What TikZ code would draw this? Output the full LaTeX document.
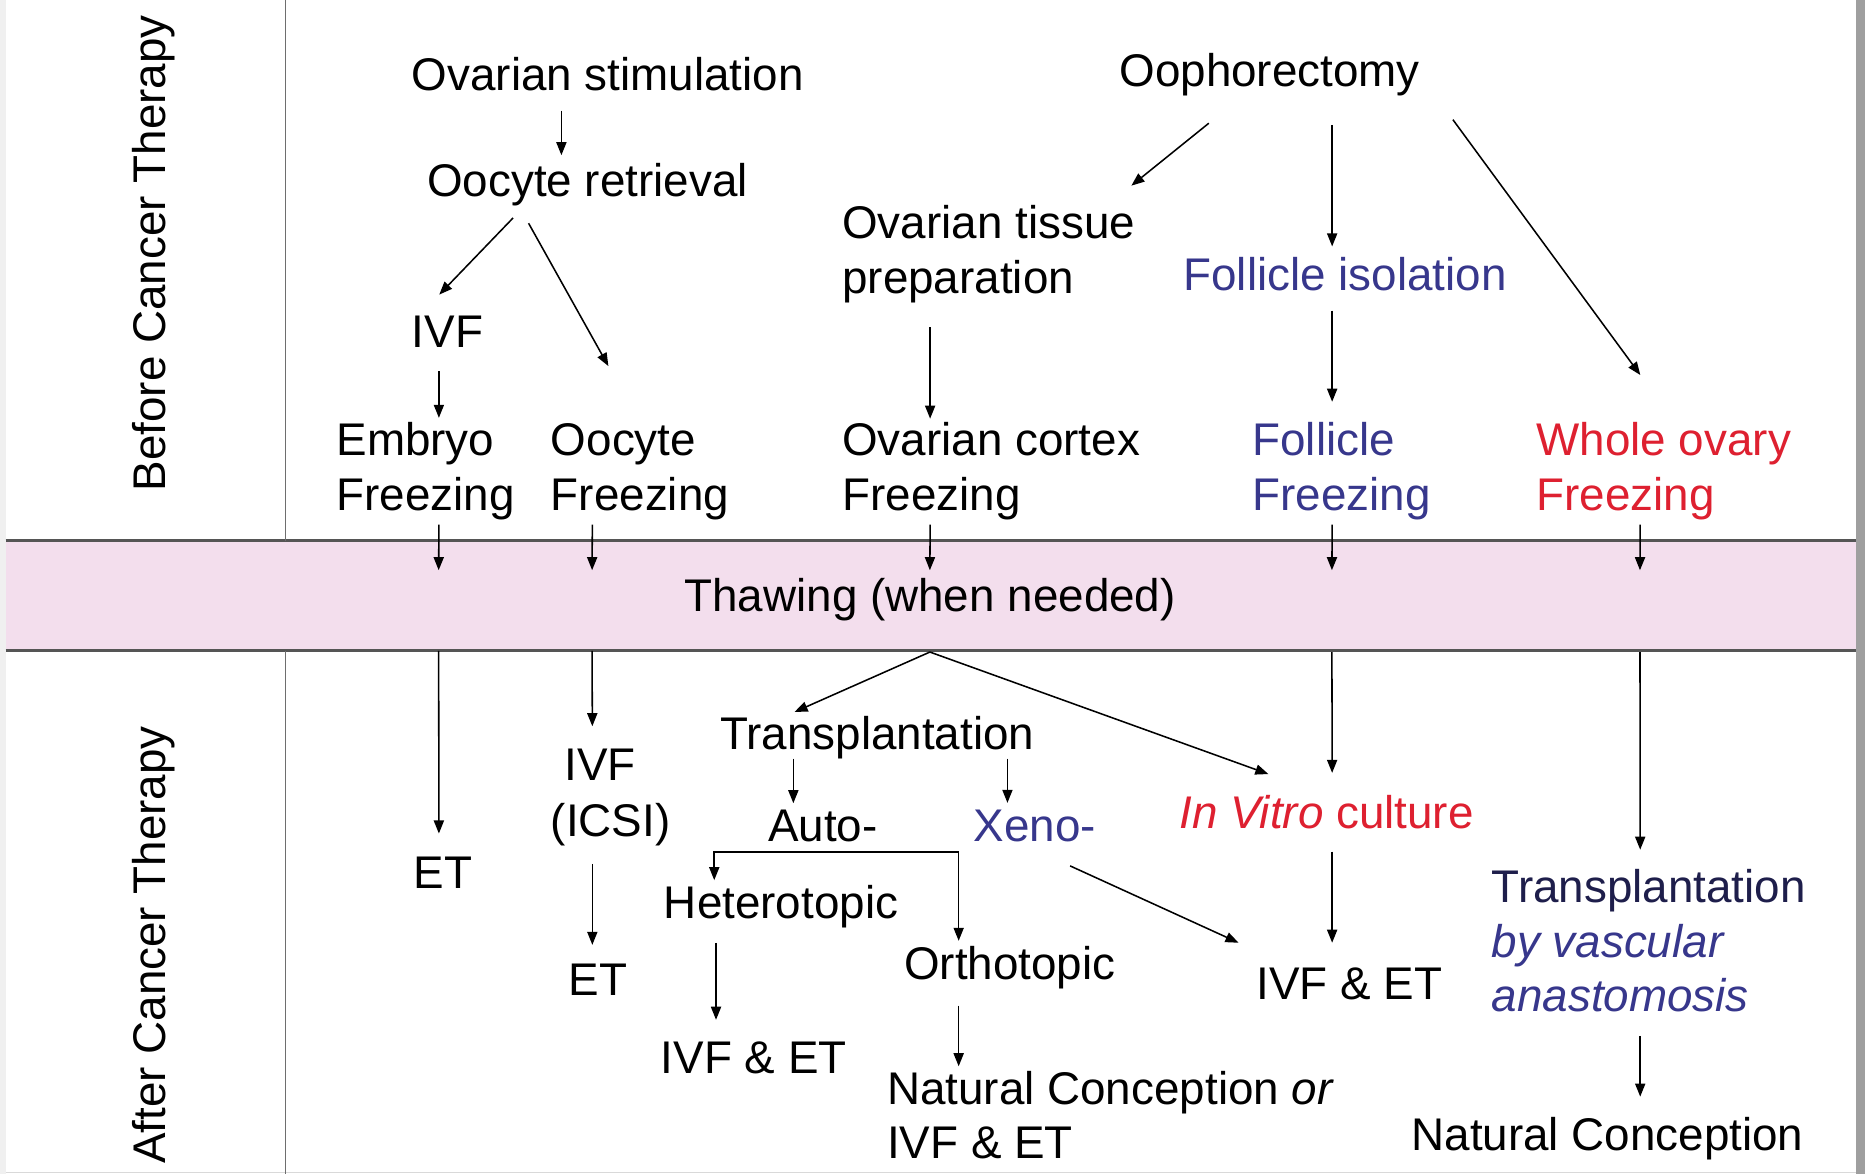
\documentclass[tikz,border=0pt]{standalone}
\usepackage{fontspec}
\setmainfont{Liberation Sans}
\usetikzlibrary{arrows.meta}
\definecolor{bandpink}{RGB}{243,222,237}
\definecolor{bandline}{RGB}{85,85,85}
\definecolor{blu}{RGB}{55,55,140}
\definecolor{navy}{RGB}{30,30,75}
\definecolor{rd}{RGB}{222,32,48}
\definecolor{divgrey}{RGB}{110,110,110}
\begin{document}
\begin{tikzpicture}[x=1pt,y=-1pt,
  txt/.style={inner sep=0pt, anchor=base west, font=\fontsize{38.5}{46}\selectfont},
  arr/.style={line width=1.3pt, -{Triangle[length=11pt,width=8.5pt]}},
  conn/.style={line width=1.3pt}]
\path[use as bounding box] (0,0) rectangle (1568,987);
% frame
\fill[white] (0,0) rectangle (1568,987);
\fill[gray!12] (0,0) rectangle (5,987);
\fill[gray!75] (1560,0) rectangle (1568,987);
\draw[gray!30, line width=1pt] (5,985.5) -- (1560,985.5);
% band
\node[fill=bandpink, minimum width=1555pt, minimum height=92pt, inner sep=0pt] (band) at (782.5,501) {};
\draw[bandline, line width=2.5pt] (band.north west) -- (band.north east);
\draw[bandline, line width=2.5pt] (band.south west) -- (band.south east);
% divider
\draw[divgrey, line width=1.3pt] (240,0) -- (240,455);
\draw[divgrey, line width=1.3pt] (240,547) -- (240,987);
% side labels
\node[txt, anchor=base, rotate=90] (bct) at (139,213) {Before Cancer Therapy};
\node[txt, anchor=base, rotate=90] (act) at (139,794.5) {After Cancer Therapy};
% top section
\node[txt] (ovs) at (346,76) {Ovarian stimulation};
\node[txt] (oret) at (359,165) {Oocyte retrieval};
\node[txt] (ivf1) at (346,292) {IVF};
\node[txt] (emb1) at (282.7,383) {Embryo};
\node[txt] (emb2) at (282.7,429.5) {Freezing};
\node[txt] (ocf1) at (463,383) {Oocyte};
\node[txt] (ocf2) at (463,429.5) {Freezing};
\node[txt] (otp1) at (708,200.6) {Ovarian tissue};
\node[txt] (otp2) at (708,247) {preparation};
\node[txt] (ocx1) at (708,383) {Ovarian cortex};
\node[txt] (ocx2) at (708,429.5) {Freezing};
\node[txt] (ooph) at (941,73) {Oophorectomy};
\node[txt, text=blu] (fiso) at (994.8,244) {Follicle isolation};
\node[txt, text=blu] (ff1) at (1052.8,383) {Follicle};
\node[txt, text=blu] (ff2) at (1052.8,429.5) {Freezing};
\node[txt, text=rd] (wo1) at (1291.6,383) {Whole ovary};
\node[txt, text=rd] (wo2) at (1291.6,429.5) {Freezing};
\node[txt, anchor=base] (thaw) at (782,514) {Thawing (when needed)};
% bottom section
\node[txt] (et1) at (347.8,747) {ET};
\node[txt] (ivf2a) at (474.4,656.5) {IVF};
\node[txt] (ivf2b) at (463,703) {(ICSI)};
\node[txt] (et2) at (478,837) {ET};
\node[txt] (trans) at (605.4,630) {Transplantation};
\node[txt] (auto) at (645.6,707.6) {Auto-};
\node[txt, text=blu] (xeno) at (818.6,707.6) {Xeno-};
\node[txt] (het) at (558,772.3) {Heterotopic};
\node[txt] (ivfet1) at (555.5,902.6) {IVF \& ET};
\node[txt] (orth) at (760,823.3) {Orthotopic};
\node[txt] (nc1) at (745.7,929) {Natural Conception \textit{or}};
\node[txt] (nc2) at (745.7,974) {IVF \& ET};
\node[txt, text=rd] (invitro) at (991.3,696.4) {\textit{In Vitro} culture};
\node[txt] (ivfet2) at (1056.3,840.3) {IVF \& ET};
\node[txt, text=navy] (tv1) at (1254,758.6) {Transplantation};
\node[txt, text=blu] (tv2) at (1254,804.6) {\textit{by vascular}};
\node[txt, text=blu] (tv3) at (1254,850.6) {\textit{anastomosis}};
\node[txt] (nc3) at (1186.5,967.3) {Natural Conception};
% top arrows
\draw[arr] ([shift={(126,17)}]ovs.base west) -- ([shift={(113,-34.5)}]oret.base west);
\draw[arr] ([shift={(72.4,18.2)}]oret.base west) -- ([shift={(23.3,-44.3)}]ivf1.base west);
\draw[arr] ([shift={(85.4,22.7)}]oret.base west) -- ([shift={(48.5,-75.2)}]ocf1.base west);
\draw[arr] ([shift={(23,20.3)}]ivf1.base west) -- ([shift={(86.3,-31.7)}]emb1.base west);
\draw[arr] ([shift={(75.3,30.6)}]ooph.base west) -- ([shift={(243.2,-44.5)}]otp1.base west);
\draw[arr] ([shift={(179,32)}]ooph.base west) -- ([shift={(125.2,-36.8)}]fiso.base west);
\draw[arr] ([shift={(280.5,27.6)}]ooph.base west) -- ([shift={(87.5,-67.7)}]wo1.base west);
\draw[arr] ([shift={(74,28)}]otp2.base west) -- ([shift={(74,-31)}]ocx1.base west);
\draw[arr] ([shift={(125.2,17.2)}]fiso.base west) -- ([shift={(67.2,-45.2)}]ff1.base west);
% into the band
\draw[arr] ([shift={(86.3,11.5)}]emb2.base west) -- ([shift={(364,24.6)}]band.north west);
\draw[arr] ([shift={(35,11.5)}]ocf2.base west) -- ([shift={(493,24.6)}]band.north west);
\draw[arr] ([shift={(74,11.5)}]ocx2.base west) -- ([shift={(777,24.6)}]band.north west);
\draw[arr] ([shift={(67.2,11.5)}]ff2.base west) -- ([shift={(1115,24.6)}]band.north west);
\draw[arr] ([shift={(87.4,11.5)}]wo2.base west) -- ([shift={(1374,24.6)}]band.north west);
% bottom arrows
\draw[arr] ([shift={(364,0)}]band.south west) -- ([shift={(21.2,-46.2)}]et1.base west);
\draw[arr] ([shift={(493,0)}]band.south west) -- ([shift={(23.6,-45.9)}]ivf2a.base west);
\draw[arr] ([shift={(35,23.3)}]ivf2b.base west) -- ([shift={(20,-42.6)}]et2.base west);
\draw[arr] ([shift={(777,1)}]band.south west) -- ([shift={(62.6,-31.4)}]trans.base west);
\draw[arr] ([shift={(777,1)}]band.south west) -- ([shift={(75.1,-45.6)}]invitro.base west);
\draw[arr] ([shift={(61.6,7.8)}]trans.base west) -- ([shift={(21.4,-32.3)}]auto.base west);
\draw[arr] ([shift={(241.6,7.8)}]trans.base west) -- ([shift={(28.4,-32.6)}]xeno.base west);
\coordinate (autoj) at ([shift={(57.4,8.5)}]auto.base west);
\draw[arr] (autoj) -| ([shift={(42.5,-32.3)}]het.base west);
\draw[arr] (autoj) -| ([shift={(46,-32.3)}]orth.base west);
\draw[arr] ([shift={(44,20.4)}]het.base west) -- ([shift={(46.5,-45.2)}]ivfet1.base west);
\draw[arr] ([shift={(46,22.2)}]orth.base west) -- ([shift={(60.3,-32.5)}]nc1.base west);
\draw[arr] ([shift={(81.1,20.4)}]xeno.base west) -- ([shift={(-15,-47.7)}]ivfet2.base west);
\draw[arr] ([shift={(1115,1)}]band.south west) -- ([shift={(128.7,-46.6)}]invitro.base west);
\draw[arr] ([shift={(128.7,19.6)}]invitro.base west) -- ([shift={(63.7,-47.7)}]ivfet2.base west);
\draw[arr] ([shift={(1374,1)}]band.south west) -- ([shift={(125,-44.2)}]tv1.base west);
\draw[arr] ([shift={(125,20.4)}]tv3.base west) -- ([shift={(192.5,-45.3)}]nc3.base west);
\end{tikzpicture}
\end{document}
